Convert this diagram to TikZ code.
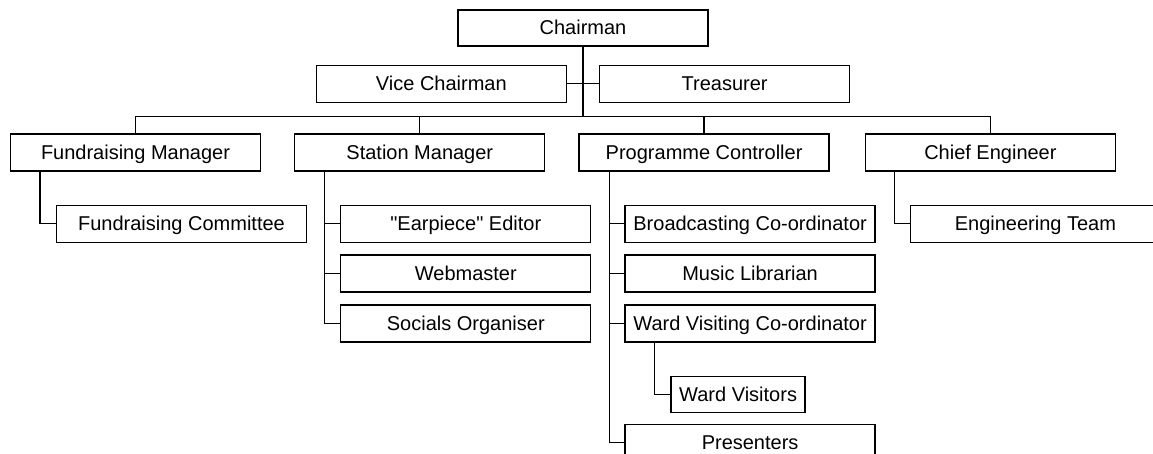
\documentclass[tikz,border=0pt]{standalone}
\usepackage{fontspec}
\setmainfont{Liberation Sans}[Ligatures=TeXOff]
\usetikzlibrary{positioning}

\begin{document}
\begin{tikzpicture}
    [
      BOX/.style={rectangle, draw=black, fill=white, line width=1.3pt, minimum width=250pt, minimum height=37pt, text height=16pt, text depth=2pt, inner sep=0pt, font=\fontsize{20}{24}\selectfont},
      LINK/.style={draw=black, line width=1.3pt},
    ]
    \useasboundingbox (0,0) rectangle (1153pt,-454pt);

    \node[BOX, minimum height=36pt] (chairman) at (583pt,-28pt) {Chairman};
    \node[BOX] (viceChairman) [below left = 18pt and 16pt of chairman.south] {Vice Chairman};
    \node[BOX] (treasurer) [below right = 18pt and 16pt of chairman.south] {Treasurer};

    \node[BOX] (fundraisingManager) at (135.5pt,-152.5pt) {Fundraising Manager};
    \node[BOX] (stationManager) [right = 33pt of fundraisingManager] {Station Manager};
    \node[BOX] (programmeController) [right = 33pt of stationManager] {Programme Controller};
    \node[BOX] (chiefEngineer) [right = 35pt of programmeController] {Chief Engineer};

    \node[BOX] (fundraisingCommittee) [below right = 33pt and 46pt of fundraisingManager.south west] {Fundraising Committee};

    \node[BOX] (earpieceEditor) [below right = 33pt and 46pt of stationManager.south west] {"Earpiece" Editor};
    \node[BOX] (webmaster) [below = 11.5pt of earpieceEditor] {Webmaster};
    \node[BOX] (socialsOrganiser) [below = 11.5pt of webmaster] {Socials Organiser};

    \node[BOX] (broadcastingCoord) [below right = 33pt and 46pt of programmeController.south west] {Broadcasting Co-ordinator};
    \node[BOX] (musicLibrarian) [below = 11.5pt of broadcastingCoord] {Music Librarian};
    \node[BOX] (wardVisitingCoord) [below = 11.5pt of musicLibrarian] {Ward Visiting Co-ordinator};
    \node[BOX, minimum width=134pt, minimum height=36pt] (wardVisitors) [below right = 33pt and 46pt of wardVisitingCoord.south west] {Ward Visitors};
    \node[BOX] (presenters) [below = 81pt of wardVisitingCoord] {Presenters};

    \node[BOX] (engineeringTeam) [below right = 33pt and 45pt of chiefEngineer.south west] {Engineering Team};

    \coordinate (bus) at ([yshift=17pt]stationManager.north -| chairman.south);

    \draw[LINK] (chairman.south) -- (bus);
    \draw[LINK] (viceChairman) -- (treasurer);
    \draw[LINK] (bus) -| (fundraisingManager.north);
    \draw[LINK] (bus) -| (stationManager.north);
    \draw[LINK] (bus) -| (programmeController.north);
    \draw[LINK] (bus) -| (chiefEngineer.north);

    \draw[LINK] (fundraisingManager.south west) + (30pt,0) |- (fundraisingCommittee.west);
    \draw[LINK] (stationManager.south west) + (30pt,0) |- (earpieceEditor.west);
    \draw[LINK] (stationManager.south west) + (30pt,0) |- (webmaster.west);
    \draw[LINK] (stationManager.south west) + (30pt,0) |- (socialsOrganiser.west);
    \draw[LINK] (programmeController.south west) + (31pt,0) |- (broadcastingCoord.west);
    \draw[LINK] (programmeController.south west) + (31pt,0) |- (musicLibrarian.west);
    \draw[LINK] (programmeController.south west) + (31pt,0) |- (wardVisitingCoord.west);
    \draw[LINK] (programmeController.south west) + (31pt,0) |- (presenters.west);
    \draw[LINK] (wardVisitingCoord.south west) + (30pt,0) |- (wardVisitors.west);
    \draw[LINK] (chiefEngineer.south west) + (30pt,0) |- (engineeringTeam.west);

  \end{tikzpicture}
\end{document}
